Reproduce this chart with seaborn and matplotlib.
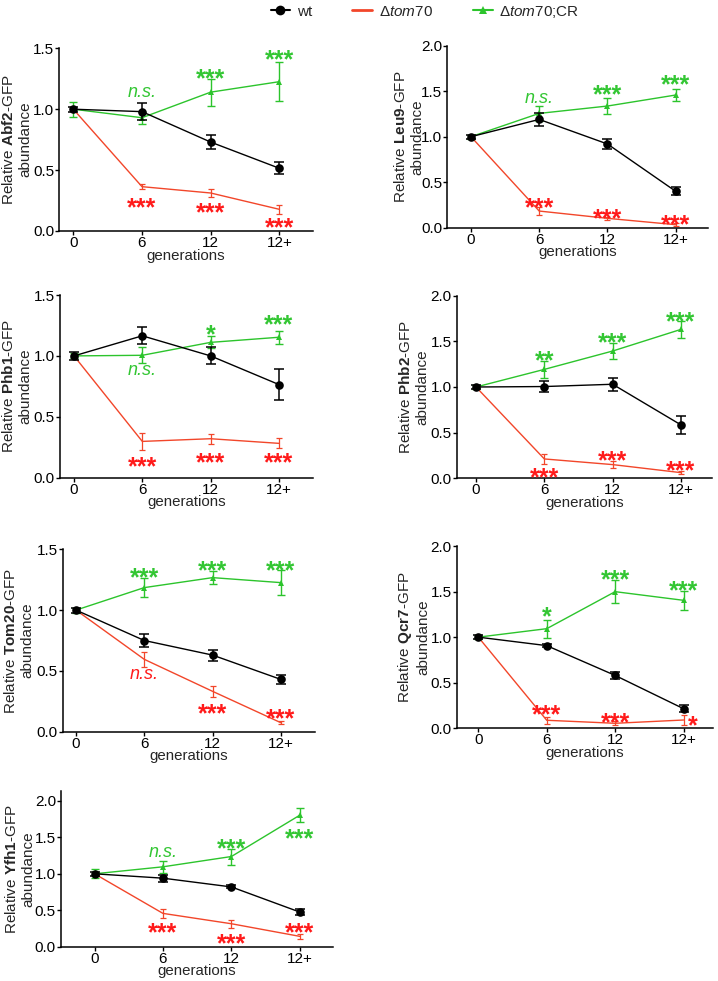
import numpy as np
import pandas as pd
import matplotlib
matplotlib.use("Agg")
import matplotlib.pyplot as plt
from matplotlib.lines import Line2D
import seaborn as sns

sns.set_theme(style="ticks")
plt.rcParams['font.family'] = ['Liberation Sans', 'DejaVu Sans']
plt.rcParams['mathtext.fontset'] = 'custom'
plt.rcParams['mathtext.rm'] = 'Liberation Sans'
plt.rcParams['mathtext.it'] = 'Liberation Sans:italic'
plt.rcParams['mathtext.bf'] = 'Liberation Sans:bold'

# ---------------- data ----------------
generations = ["0", "6", "12", "12+"]
proteins = ["Abf2", "Leu9", "Phb1", "Phb2", "Tom20", "Qcr7", "Yfh1"]

wt_mean = {
    "Abf2": [1.0, 0.98, 0.73, 0.515],
    "Leu9": [1.0, 1.19, 0.92, 0.40],
    "Phb1": [1.0, 1.165, 1.0, 0.765],
    "Phb2": [1.0, 1.005, 1.03, 0.585],
    "Tom20": [1.0, 0.75, 0.63, 0.43],
    "Qcr7": [1.0, 0.907, 0.58, 0.215],
    "Yfh1": [1.0, 0.94, 0.82, 0.475],
}
wt_err = {
    "Abf2": [0.02, 0.07, 0.06, 0.05],
    "Leu9": [0.02, 0.07, 0.05, 0.045],
    "Phb1": [0.03, 0.07, 0.07, 0.13],
    "Phb2": [0.02, 0.065, 0.07, 0.095],
    "Tom20": [0.02, 0.05, 0.045, 0.035],
    "Qcr7": [0.02, 0.02, 0.04, 0.04],
    "Yfh1": [0.03, 0.05, 0.02, 0.04],
}
ko_mean = {
    "Abf2": [1.0, 0.364, 0.312, 0.178],
    "Leu9": [1.0, 0.183, 0.103, 0.033],
    "Phb1": [1.0, 0.298, 0.32, 0.282],
    "Phb2": [1.0, 0.212, 0.15, 0.062],
    "Tom20": [1.0, 0.595, 0.332, 0.074],
    "Qcr7": [1.0, 0.088, 0.055, 0.091],
    "Yfh1": [1.0, 0.457, 0.315, 0.142],
}
ko_err = {
    "Abf2": [0.0, 0.02, 0.03, 0.035],
    "Leu9": [0.0, 0.045, 0.02, 0.015],
    "Phb1": [0.0, 0.07, 0.04, 0.04],
    "Phb2": [0.0, 0.05, 0.035, 0.02],
    "Tom20": [0.0, 0.06, 0.045, 0.014],
    "Qcr7": [0.0, 0.04, 0.02, 0.05],
    "Yfh1": [0.0, 0.06, 0.055, 0.03],
}
cr_mean = {
    "Abf2": [1.0, 0.93, 1.14, 1.226],
    "Leu9": [1.0, 1.256, 1.337, 1.458],
    "Phb1": [1.0, 1.005, 1.111, 1.153],
    "Phb2": [1.0, 1.193, 1.394, 1.631],
    "Tom20": [1.0, 1.185, 1.267, 1.226],
    "Qcr7": [1.0, 1.093, 1.499, 1.404],
    "Yfh1": [1.0, 1.096, 1.237, 1.804],
}
cr_err = {
    "Abf2": [0.06, 0.05, 0.11, 0.16],
    "Leu9": [0.02, 0.08, 0.09, 0.07],
    "Phb1": [0.02, 0.065, 0.05, 0.055],
    "Phb2": [0.02, 0.095, 0.085, 0.09],
    "Tom20": [0.02, 0.08, 0.055, 0.10],
    "Qcr7": [0.02, 0.10, 0.125, 0.105],
    "Yfh1": [0.06, 0.08, 0.11, 0.10],
}
# significance labels: (generation index, text, y position)
cr_sig = {
    "Abf2": [(1, "n.s.", 1.14), (2, "***", 1.31), (3, "***", 1.46)],
    "Leu9": [(1, "n.s.", 1.42), (2, "***", 1.54), (3, "***", 1.65)],
    "Phb1": [(1, "n.s.", 0.88), (2, "*", 1.23), (3, "***", 1.31)],
    "Phb2": [(1, "**", 1.36), (2, "***", 1.56), (3, "***", 1.79)],
    "Tom20": [(1, "***", 1.32), (2, "***", 1.38), (3, "***", 1.38)],
    "Qcr7": [(1, "*", 1.30), (2, "***", 1.71), (3, "***", 1.58)],
    "Yfh1": [(1, "n.s.", 1.30), (2, "***", 1.44), (3, "***", 1.57)],
}
ko_sig = {
    "Abf2": [(1, "***", 0.25), (2, "***", 0.205), (3, "***", 0.085)],
    "Leu9": [(1, "***", 0.30), (2, "***", 0.18), (3, "***", 0.11)],
    "Phb1": [(1, "***", 0.145), (2, "***", 0.178), (3, "***", 0.178)],
    "Phb2": [(1, "***", 0.08), (2, "***", 0.266), (3, "***", 0.164)],
    "Tom20": [(1, "n.s.", 0.47), (2, "***", 0.205), (3, "***", 0.165)],
    "Qcr7": [(1, "***", 0.23), (2, "***", 0.135), (3.13, "*", 0.10)],
    "Yfh1": [(1, "***", 0.29), (2, "***", 0.137), (3, "***", 0.29)],
}
ymax = {"Abf2": 1.5, "Leu9": 2.0, "Phb1": 1.5, "Phb2": 2.0, "Tom20": 1.5, "Qcr7": 2.0, "Yfh1": 2.14}

# ---------------- layout (pixels: left, right, top, bottom, ylabel anchor x) ----------------
W, H = 718, 981
boxes = {
    "Abf2": (59.3, 313, 48.3, 231, 32),
    "Leu9": (447.3, 708.3, 45.7, 227.7, 424),
    "Phb1": (60, 313, 295, 477.7, 32),
    "Phb2": (456.7, 711.7, 295.7, 478.3, 429),
    "Tom20": (62.7, 315, 549.3, 731.7, 34),
    "Qcr7": (456.7, 713, 546, 728.3, 430),
    "Yfh1": (61, 333.3, 790.7, 946.7, 35),
}
xlims = {
    "Abf2": (-0.204, 3.49), "Leu9": (-0.347, 3.478), "Phb1": (-0.205, 3.50),
    "Phb2": (-0.283, 3.45), "Tom20": (-0.195, 3.50), "Qcr7": (-0.316, 3.43),
    "Yfh1": (-0.49, 3.49),
}

BLACK = "#000000"
RED_LINE = "#f2462a"
RED_TXT = "#ff1a1a"
GREEN = "#2cc42c"
GREEN_TXT = "#33c633"

fig = plt.figure(figsize=(W / 100, H / 100), dpi=100)

x = np.arange(len(generations))
STAR_FS = 18
NS_FS = 13


def sig_text(ax, xpos, txt, y, color):
    if "*" in txt:
        fs = STAR_FS
        off = -0.58 * fs
        style = "normal"
        weight = "bold"
    else:
        fs = NS_FS
        off = -0.27 * fs
        style = "italic"
        weight = "normal"
    ax.annotate(txt, (xpos, y), xytext=(0, off), textcoords="offset points",
                ha="center", va="baseline", fontsize=fs, color=color,
                fontstyle=style, fontweight=weight, annotation_clip=False)


for p in proteins:
    l, r, t, b, lab_x = boxes[p]
    ax = fig.add_axes([l / W, 1 - b / H, (r - l) / W, (b - t) / H])
    df = pd.DataFrame({
        "x": np.concatenate([x, x, x]),
        "y": np.concatenate([ko_mean[p], cr_mean[p], wt_mean[p]]),
        "strain": ["ko"] * 4 + ["cr"] * 4 + ["wt"] * 4,
    })
    # red (no marker)
    sns.lineplot(data=df[df.strain == "ko"], x="x", y="y", ax=ax, color=RED_LINE,
                 lw=1.0, legend=False, zorder=2)
    ax.errorbar(x, ko_mean[p], yerr=ko_err[p], fmt="none", ecolor=RED_LINE,
                elinewidth=0.9, capsize=2.2, capthick=0.9, zorder=2)
    # green triangles
    sns.lineplot(data=df[df.strain == "cr"], x="x", y="y", ax=ax, color=GREEN,
                 lw=1.0, marker="^", markersize=5, markeredgewidth=0,
                 legend=False, zorder=3)
    ax.errorbar(x, cr_mean[p], yerr=cr_err[p], fmt="none", ecolor=GREEN,
                elinewidth=1.0, capsize=3, capthick=1.0, zorder=3)
    # black circles
    sns.lineplot(data=df[df.strain == "wt"], x="x", y="y", ax=ax, color=BLACK,
                 lw=1.0, marker="o", markersize=6.2, markeredgewidth=0,
                 legend=False, zorder=4)
    ax.errorbar(x, wt_mean[p], yerr=wt_err[p], fmt="none", ecolor=BLACK,
                elinewidth=1.1, capsize=3.5, capthick=1.1, zorder=4)

    for xi, txt, yy in cr_sig[p]:
        sig_text(ax, xi, txt, yy, GREEN_TXT)
    for xi, txt, yy in ko_sig[p]:
        sig_text(ax, xi, txt, yy, RED_TXT)

    ax.set_xlim(*xlims[p])
    ax.set_ylim(0, ymax[p])
    top_tick = 2.0 if ymax[p] > 1.6 else 1.5
    yt = np.arange(0, top_tick + 0.01, 0.5)
    ax.set_yticks(yt)
    ax.set_yticklabels([f"{v:.1f}" for v in yt])
    ax.set_xticks(x)
    ax.set_xticklabels(generations)
    ax.tick_params(axis="both", labelsize=11, width=1.0, length=2.6, direction="out",
                   pad=1.0, colors="black")
    for s in ["top", "right"]:
        ax.spines[s].set_visible(False)
    for s in ["left", "bottom"]:
        ax.spines[s].set_linewidth(1.1)
        ax.spines[s].set_color("black")
    ax.set_xlabel("generations", fontsize=10.8, labelpad=-1)
    ax.set_ylabel("Relative $\\mathbf{" + p + "}$-GFP\nabundance", fontsize=11,
                  linespacing=1.15)
    ax.yaxis.set_label_coords((lab_x - l) / (r - l), 0.5)

handles = [
    Line2D([], [], color=BLACK, lw=1.5, marker="o", markersize=7, markeredgewidth=0),
    Line2D([], [], color=RED_LINE, lw=2),
    Line2D([], [], color=GREEN, lw=1.5, marker="^", markersize=6, markeredgewidth=0),
]
labels = ["wt", "\u0394$\\mathit{tom70}$", "\u0394$\\mathit{tom70}$;CR"]
fig.legend(handles, labels, loc="center", bbox_to_anchor=(0.592, 1 - 11.5 / H),
           ncol=3, frameon=False, fontsize=11, handlelength=1.3,
           handletextpad=0.45, columnspacing=2.6)

fig.savefig("out.png", dpi=100)
